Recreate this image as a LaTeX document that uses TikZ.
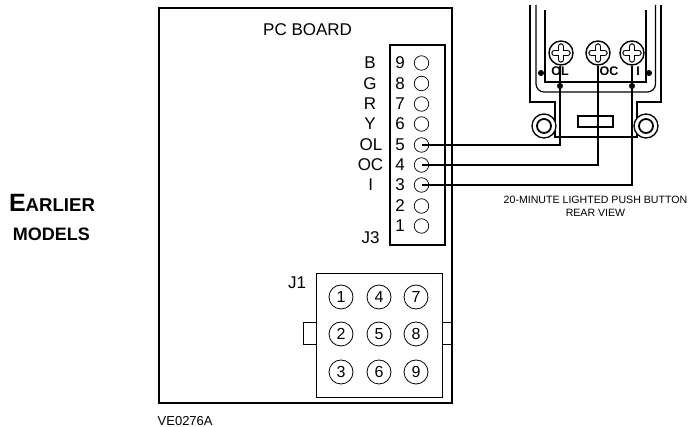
\documentclass[tikz,border=0pt]{standalone}
\usepackage{fontspec}
\setmainfont{Liberation Sans}
\tikzset{
	pin/.style={draw, circle, line width=0.7pt, minimum size=14.5pt, inner sep=0pt},
	socket/.style={draw, circle, line width=0.8pt, minimum size=24pt, inner sep=0pt, font=\fontsize{16}{16}\selectfont},
	screw/.style={draw, circle, line width=1.4pt, minimum size=24pt, inner sep=0pt},
	ring/.style={draw, circle, line width=1.3pt, minimum size=24pt, inner sep=0pt},
	dot/.style={fill, circle, minimum size=6pt, inner sep=0pt},
	wire/.style={line width=1.9pt},
	label/.style={inner sep=0pt, font=\fontsize{17}{17}\selectfont},
	term/.style={inner sep=0pt, font=\fontsize{12.5}{12.5}\selectfont\bfseries},
	caption/.style={inner sep=0pt, font=\fontsize{10.6}{10.6}\selectfont}
}
\begin{document}
\begin{tikzpicture}[x=1pt, y=-1pt]
\useasboundingbox (0, 0) rectangle (697, 427);

% board and connectors
\draw[line width=1.7pt] (159, 8) rectangle (452, 403);
\draw[line width=1.4pt] (390, 45) rectangle (445, 245);
\draw[line width=0.8pt] (316, 273) rectangle (442, 397);
\draw[line width=0.8pt] (316, 322) -- (303, 322) -- (303, 344) -- (316, 344);
\draw[line width=0.8pt] (442, 322) -- (452, 322);
\draw[line width=0.8pt] (442, 344) -- (452, 344);

\node[label, anchor=base west] (pcboard) at (263, 36) {PC BOARD};
\node[label] (jthree) at (370.5, 238) {J3};
\node[label] (jone) at (297, 283) {J1};

% J3 pins
\foreach \i/\y in {9/63, 8/83.5, 7/104, 6/124, 5/145, 4/165, 3/185, 2/206, 1/226} {
	\node[pin] (pin\i) at (421.5, \y) {};
	\node[label] (num\i) at (400, \y) {\i};
}
\node[label] (nameb) at (370, 63) {B};
\node[label] (nameg) at (370, 83.5) {G};
\node[label] (namer) at (370, 104) {R};
\node[label] (namey) at (370, 124) {Y};
\node[label] (nameol) at (371, 145) {OL};
\node[label] (nameoc) at (370.5, 165) {OC};
\node[label] (namei) at (370.7, 185) {I};

% J1 sockets
\foreach \i/\x/\y in {1/341/297, 2/341/334, 3/341/372, 4/379/297, 5/379/334, 6/379/372, 7/416/297, 8/416/334, 9/416/372}
	\node[socket] (sock\i) at (\x, \y) {\i};

% push button body
\draw[line width=1.2pt] (530, 5) -- (530, 102) -- (555, 102) -- (555, 137) -- (637, 137) -- (637, 102) -- (661, 102) -- (661, 5);
\draw[line width=1.2pt, rounded corners=8pt] (536, 5) -- (536, 92) -- (655.5, 92) -- (655.5, 5);
\draw[line width=1.2pt] (545, 10) -- (545, 82) -- (646, 82) -- (646, 10);
\draw[line width=1.2pt, fill=white] (578, 116) rectangle (613, 127);

\node[ring, fill=white] (ringl) at (544, 126) {};
\node[ring, minimum size=14pt, line width=1.8pt] (ringli) at (ringl.center) {};
\node[ring, fill=white] (ringr) at (646, 126) {};
\node[ring, minimum size=14pt, line width=1.8pt] (ringri) at (ringr.center) {};

\node[dot] (dotl) at (541, 73) {};
\node[dot] (dotr) at (649, 73) {};
\node[dot] (dotol) at (560, 86) {};
\node[dot] (doti) at (632, 86) {};

\node[term] (termol) at (560, 71.5) {OL};
\node[term] (termoc) at (609, 71.5) {OC};
\node[term] (termi) at (638, 71.5) {I};

% screws
\foreach \n/\x in {ol/561, oc/598, i/632} {
	\node[screw, fill=white] (screw\n) at (\x, 53) {};
	\draw[line width=6.5pt, line cap=round] (\x-6.5, 53) -- (\x+6.5, 53);
	\draw[line width=6.5pt, line cap=round] (\x, 46.5) -- (\x, 59.5);
	\draw[line width=4pt, line cap=round, white] (\x-6.5, 53) -- (\x+6.5, 53);
	\draw[line width=4pt, line cap=round, white] (\x, 46.5) -- (\x, 59.5);
}

% wires
\draw[wire] (pin5.center) -| (dotol.center) -- (dotol |- screwol.south);
\draw[wire] (pin4.center) -| (screwoc.south);
\draw[wire] (pin3.center) -| (screwi.south);

\node[caption] (captiona) at (595.5, 200) {20-MINUTE LIGHTED PUSH BUTTON};
\node[caption] (captionb) at (595.5, 213) {REAR VIEW};
\node[inner sep=0pt, anchor=base west, font=\fontsize{13}{13}\selectfont] (code) at (157.5, 425.5) {VE0276A};

\node[inner sep=0pt, anchor=base, font=\bfseries\fontsize{18.6}{18.6}\selectfont] (earlier) at (52, 211.7) {{\fontsize{25}{25}\selectfont E}ARLIER};
\node[inner sep=0pt, anchor=base, font=\bfseries\fontsize{18}{18}\selectfont] (models) at (51.5, 240.7) {MODELS};
\end{tikzpicture}
\end{document}
